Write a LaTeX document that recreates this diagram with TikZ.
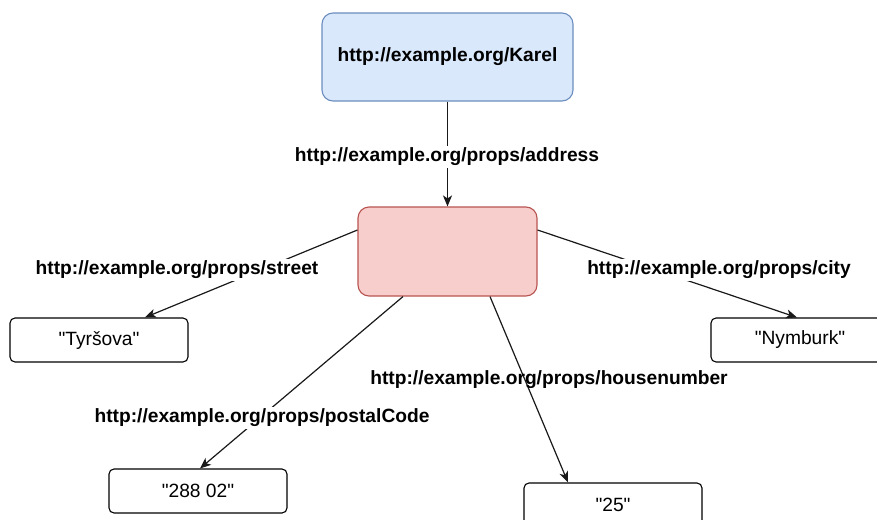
\documentclass[tikz,border=0pt]{standalone}
\usepackage{fontspec}
\setmainfont{Liberation Sans}[Ligatures=TeXOff]
\usetikzlibrary{arrows.meta}
\definecolor{blueFill}{HTML}{DAE8FC}
\definecolor{blueLine}{HTML}{6C8EBF}
\definecolor{redFill}{HTML}{F8CECC}
\definecolor{redLine}{HTML}{B85450}
\tikzset{
  base/.style={font=\fontsize{19.2}{22}\selectfont, line width=1.1pt},
  res/.style={base, draw=blueLine, fill=blueFill, rounded corners=11pt, minimum width=251pt, minimum height=88pt, font=\fontsize{19.2}{22}\selectfont\bfseries},
  bnode/.style={base, draw=redLine, fill=redFill, rounded corners=11pt, minimum width=179pt, minimum height=89pt},
  lit/.style={base, draw=black, fill=white, rounded corners=5pt, minimum width=178pt, minimum height=44pt},
  elabel/.style={font=\fontsize{19.2}{22}\selectfont\bfseries, inner sep=2pt},
  edge/.style={line width=1.2pt, draw=black!90, -{Stealth[length=11pt,width=9pt,inset=3pt]}}
}
\begin{document}
\begin{tikzpicture}[x=1pt,y=-1pt]
\useasboundingbox (0,0) rectangle (877,519);
\fill[white] (0,0) rectangle (877,519);
\begin{scope}
\clip (0,0) rectangle (877,519);
\node[res] (karel) at (447.5,57) {http://example.org/Karel};
\node[bnode] (blank) at (447.5,251.5) {};
\node[lit] (tyr) at (99,340) {"Tyršova"};
\node[lit] (nym) at (800,340) {"Nymburk"};
\node[lit] (psc) at (198,491) {"288 02"};
\node[lit] (num) at (613,505) {"25"};

\draw[edge] (karel.south) -- (blank.north);
\draw[edge] ([yshift=21.5pt]blank.west) -- ([xshift=46pt]tyr.north);
\draw[edge] ([yshift=21.5pt]blank.east) -- ([xshift=-3pt]nym.north);
\draw[edge] ([xshift=-44.5pt]blank.south) -- ([xshift=2pt]psc.north);
\draw[edge] ([xshift=42.5pt]blank.south) -- ([xshift=-45pt]num.north);

\node[elabel, fill=white] (laddr) at (447,157) {http://example.org/props/address};
\node[elabel, fill=white] (lstreet) at (177,270) {http://example.org/props/street};
\node[elabel, fill=white] (lcity) at (719,270) {http://example.org/props/city};
\node[elabel, fill=white] (lpsc) at (262,418) {http://example.org/props/postalCode};
\node[elabel] (lnum) at (549,380) {http://example.org/props/housenumber};
\end{scope}
\end{tikzpicture}
\end{document}
